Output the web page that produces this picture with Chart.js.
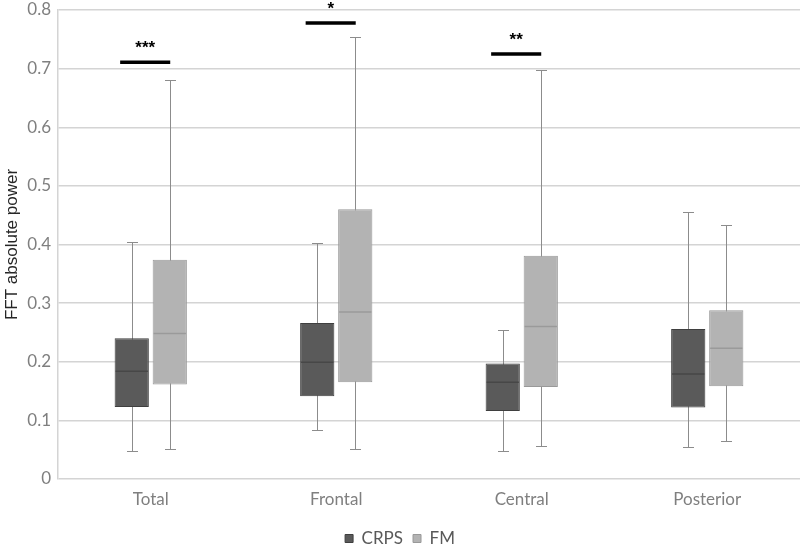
<!DOCTYPE html>
<html>
<head>
<meta charset="utf-8">
<script src="https://cdn.jsdelivr.net/npm/chart.js@4.4.1/dist/chart.umd.min.js"></script>
<style>
  html, body { margin: 0; padding: 0; background: #fff; }
  #wrap { width: 800px; height: 549px; position: relative; }
</style>
</head>
<body>
<div id="wrap"><canvas id="box-chart"></canvas></div>
<script>
// Box plot data
const categories = ['Total', 'Frontal', 'Central', 'Posterior'];

const crpsMin    = [0.048, 0.083, 0.048, 0.054];
const crpsQ1     = [0.123, 0.141, 0.116, 0.122];
const crpsMedian = [0.184, 0.199, 0.165, 0.179];
const crpsQ3     = [0.240, 0.266, 0.197, 0.256];
const crpsMax    = [0.404, 0.403, 0.254, 0.456];

const fmMin    = [0.051, 0.051, 0.057, 0.064];
const fmQ1     = [0.161, 0.165, 0.157, 0.158];
const fmMedian = [0.248, 0.285, 0.260, 0.223];
const fmQ3     = [0.374, 0.460, 0.381, 0.288];
const fmMax    = [0.681, 0.754, 0.698, 0.434];

// significance annotations
const sigCategory = [0, 1, 2];
const sigLevel    = [0.711, 0.778, 0.725];
const sigLabel    = ['***', '*', '**'];

const yTicks = [0, 0.1, 0.2, 0.3, 0.4, 0.5, 0.6, 0.7, 0.8];

const groups = [
    { min: crpsMin, q1: crpsQ1, med: crpsMedian, q3: crpsQ3, max: crpsMax, medColor: '#474747' },
    { min: fmMin, q1: fmQ1, med: fmMedian, q3: fmQ3, max: fmMax, medColor: '#9a9a9a' }
];

// whiskers behind the boxes, medians + significance bars on top
const boxPlotPlugin = {
    id: 'boxPlot',
    beforeDatasetsDraw(chart) {
        const ctx = chart.ctx;
        const y = chart.scales.y;
        ctx.save();
        ctx.strokeStyle = '#8c8c8c';
        ctx.lineWidth = 1;
        groups.forEach((g, d) => {
            chart.getDatasetMeta(d).data.forEach((bar, i) => {
                const x = Math.round(bar.x) + 0.5;
                const cap = 5.5;
                const yMax = Math.round(y.getPixelForValue(g.max[i])) + 0.5;
                const yMin = Math.round(y.getPixelForValue(g.min[i])) + 0.5;
                ctx.beginPath();
                ctx.moveTo(x, yMax); ctx.lineTo(x, yMin);
                ctx.moveTo(x - cap, yMax); ctx.lineTo(x + cap, yMax);
                ctx.moveTo(x - cap, yMin); ctx.lineTo(x + cap, yMin);
                ctx.stroke();
            });
        });
        ctx.restore();
    },
    afterDatasetsDraw(chart) {
        const ctx = chart.ctx;
        const y = chart.scales.y;
        const x = chart.scales.x;
        ctx.save();
        ctx.lineWidth = 1.5;
        groups.forEach((g, d) => {
            ctx.strokeStyle = g.medColor;
            chart.getDatasetMeta(d).data.forEach((bar, i) => {
                const half = bar.width / 2 - 1;
                const ym = y.getPixelForValue(g.med[i]);
                ctx.beginPath();
                ctx.moveTo(bar.x - half, ym);
                ctx.lineTo(bar.x + half, ym);
                ctx.stroke();
            });
        });

        // significance bars
        const catW = x.width / categories.length;
        ctx.strokeStyle = '#000';
        ctx.fillStyle = '#000';
        ctx.lineWidth = 3.5;
        ctx.font = 'bold 17px "Liberation Sans", Arial, sans-serif';
        ctx.textAlign = 'center';
        ctx.textBaseline = 'middle';
        sigCategory.forEach((c, k) => {
            const cx = x.getPixelForValue(c) - catW * 0.03;
            const hw = catW * 0.135;
            const yy = y.getPixelForValue(sigLevel[k]);
            ctx.beginPath();
            ctx.moveTo(cx - hw, yy);
            ctx.lineTo(cx + hw, yy);
            ctx.stroke();
            ctx.fillText(sigLabel[k], cx, yy - 14);
        });
        ctx.restore();
    }
};

const ctx = document.getElementById('box-chart').getContext('2d');

new Chart(ctx, {
    type: 'bar',
    data: {
        labels: categories,
        datasets: [{
            label: 'CRPS',
            data: crpsQ1.map((v, i) => [v, crpsQ3[i]]),
            backgroundColor: '#5a5a5a',
            borderColor: '#3f3f3f',
            borderWidth: 1,
            borderSkipped: false,
            categoryPercentage: 0.41,
            barPercentage: 0.9
        }, {
            label: 'FM',
            data: fmQ1.map((v, i) => [v, fmQ3[i]]),
            backgroundColor: '#b3b3b3',
            borderColor: '#999999',
            borderWidth: 1,
            borderSkipped: false,
            categoryPercentage: 0.41,
            barPercentage: 0.9
        }]
    },
    options: {
        responsive: true,
        maintainAspectRatio: false,
        animation: false,
        layout: {
            padding: { top: 10, right: 0, bottom: -8, left: 0 }
        },
        plugins: {
            legend: {
                position: 'bottom',
                labels: {
                    boxWidth: 8,
                    boxHeight: 8,
                    padding: 10,
                    color: '#595959',
                    font: { family: 'Lato', size: 17 }
                }
            },
            tooltip: { enabled: false }
        },
        scales: {
            x: {
                grid: { display: false, drawTicks: false },
                border: { display: false },
                ticks: {
                    padding: 10,
                    color: '#7f7f7f',
                    font: { family: 'Lato', size: 17 }
                },
                afterFit: function(scale) { scale.height = 41; }
            },
            y: {
                min: 0,
                max: 0.8,
                afterBuildTicks: function(scale) {
                    scale.ticks = yTicks.map(v => ({ value: v }));
                },
                grid: {
                    color: '#d4d4d4',
                    lineWidth: 1.5,
                    drawTicks: false
                },
                border: { display: true, color: '#d4d4d4', width: 1.5 },
                ticks: {
                    padding: 7,
                    color: '#7f7f7f',
                    font: { family: 'Lato', size: 17 },
                    callback: function(value) {
                        return value === 0 ? '0' : value.toFixed(1);
                    }
                },
                title: {
                    display: true,
                    text: 'FFT absolute power',
                    color: '#262626',
                    padding: 2,
                    font: { family: '"Liberation Sans", Arial, sans-serif', size: 17 }
                },
                afterFit: function(scale) {
                    scale.width = 58;
                    scale.paddingTop = 0;
                    scale.paddingBottom = 0;
                }
            }
        }
    },
    plugins: [boxPlotPlugin]
});
</script>
</body>
</html>
